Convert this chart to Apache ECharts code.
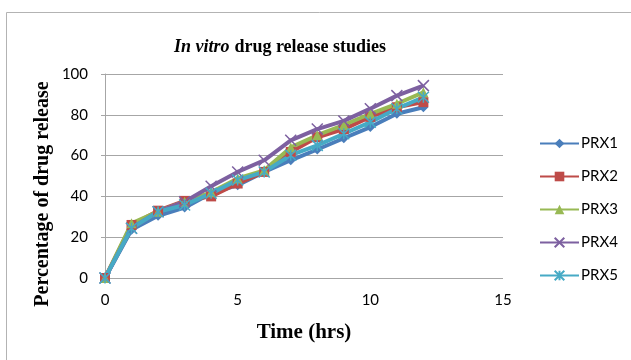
<!DOCTYPE html>
<html>
<head>
<meta charset="utf-8">
<script src="https://cdn.jsdelivr.net/npm/echarts@6/dist/echarts.min.js"></script>
<style>
    html, body { margin: 0; padding: 0; background: #fff; }
    #chart { width: 631px; height: 360px; }
</style>
</head>
<body>
<div id="chart"></div>
<script>
var hours = [0, 1, 2, 3, 4, 5, 6, 7, 8, 9, 10, 11, 12];
var prx1 = [0, 23.6, 30.5, 34.5, 41.5, 45.5, 52, 57.7, 63, 68.5, 74, 80.5, 83.7];
var prx2 = [0, 26, 33, 37.8, 40, 46.3, 52, 61.8, 69, 73, 79, 83.7, 86.2];
var prx3 = [0, 26.8, 32.5, 37.4, 42, 48.8, 52.8, 64, 70, 75, 80.5, 85.4, 91];
var prx4 = [0, 24.4, 32.5, 37.4, 45, 52, 57.7, 67.5, 73, 77, 83, 89.4, 94.3];
var prx5 = [0, 24.4, 32.5, 35.8, 41.5, 48, 52, 60.2, 65, 70.7, 76.4, 83, 88.6];

var names = ['PRX1', 'PRX2', 'PRX3', 'PRX4', 'PRX5'];
var colors = ['#4a7ebb', '#be4b48', '#98b954', '#7d60a0', '#46aac5'];
var symbols = [
    'diamond',
    'rect',
    'triangle',
    'path://M0,0L10,10M10,0L0,10',
    'path://M0,0L10,10M10,0L0,10M5,0L5,10'
];
var values = [prx1, prx2, prx3, prx4, prx5];

function pairs(arr) {
    return arr.map(function (v, i) { return [hours[i], v]; });
}

var series = names.map(function (name, i) {
    var stroked = i >= 3;
    return {
        name: name,
        type: 'line',
        data: pairs(values[i]),
        symbol: symbols[i],
        symbolSize: stroked ? 11 : 10,
        showSymbol: true,
        lineStyle: { width: 4, color: colors[i] },
        itemStyle: stroked
            ? { color: colors[i], borderColor: colors[i], borderWidth: 1.5 }
            : { color: colors[i] },
        animation: false
    };
});

var chart = echarts.init(document.getElementById('chart'));
chart.setOption({
    color: colors,
    animation: false,
    graphic: [{
        type: 'rect',
        shape: { x: 6.5, y: 12.5, width: 640, height: 360 },
        style: { fill: 'none', stroke: '#b3b3b3', lineWidth: 1 },
        silent: true
    }, {
        // y axis title, centred lower than the plot like the original
        type: 'text',
        x: 43,
        y: 194,
        rotation: Math.PI / 2,
        style: {
            text: 'Percentage of drug release',
            fontFamily: 'Liberation Serif',
            fontSize: 20,
            fontWeight: 'bold',
            fill: '#000',
            align: 'center',
            verticalAlign: 'middle'
        },
        silent: true
    }],
    title: {
        text: '{i|In vitro} {b|drug release studies}',
        left: 275,
        top: 33,
        textAlign: 'center',
        textStyle: {
            rich: {
                i: { fontFamily: 'Liberation Serif', fontSize: 18, fontWeight: 'bold', fontStyle: 'italic', color: '#000' },
                b: { fontFamily: 'Liberation Serif', fontSize: 18, fontWeight: 'bold', color: '#000' }
            }
        }
    },
    grid: { left: 105, right: 128, top: 74, bottom: 82 },
    legend: {
        orient: 'vertical',
        left: 539,
        top: 136,
        padding: 0,
        itemWidth: 39,
        itemHeight: 12,
        itemGap: 18,
        data: names,
        textStyle: { fontFamily: 'Lato', fontSize: 15, color: '#000', padding: [0, 0, 0, -3] }
    },
    xAxis: {
        type: 'value',
        min: 0,
        max: 15,
        interval: 5,
        name: 'Time (hrs)',
        nameLocation: 'middle',
        nameGap: 44,
        nameTextStyle: { fontFamily: 'Liberation Serif', fontSize: 21, fontWeight: 'bold', color: '#000' },
        axisLine: { show: false },
        axisTick: { show: false },
        splitLine: { show: false },
        axisLabel: { fontFamily: 'Lato', fontSize: 15, color: '#000', margin: 15 }
    },
    yAxis: {
        type: 'value',
        min: 0,
        max: 100,
        interval: 20,
        axisLine: { show: true, lineStyle: { color: '#a6a6a6', width: 1 } },
        axisTick: { show: true, length: 4, lineStyle: { color: '#a6a6a6' } },
        splitLine: { show: true, lineStyle: { color: '#a6a6a6', width: 1 } },
        axisLabel: { fontFamily: 'Lato', fontSize: 15, color: '#000', margin: 17 }
    },
    series: series
});
</script>
</body>
</html>
